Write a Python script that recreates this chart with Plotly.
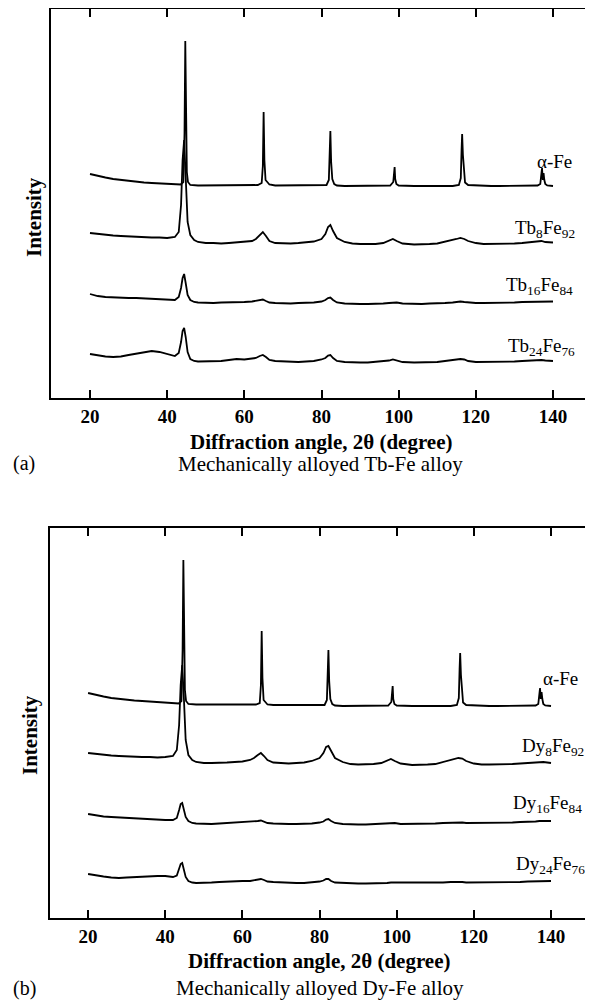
import plotly.graph_objects as go

# ---------------- data ----------------
x_sharp = [20, 22, 24, 26, 28, 30, 32, 34, 36, 38, 40, 42,
           43.5, 44.2, 44.5, 44.7, 44.9, 45.1, 45.4, 46,
           48, 50, 52, 54, 56, 58, 60, 62, 63.5,
           64.5, 64.8, 65.0, 65.2, 65.5, 66.5,
           68, 70, 72, 74, 76, 78, 80, 81.3,
           81.9, 82.1, 82.3, 82.5, 82.8, 83.3,
           84, 86, 88, 90, 92, 94, 96, 97.8,
           98.6, 98.8, 98.95, 99.1, 99.4,
           100, 102, 104, 106, 108, 110, 112, 114, 115.6,
           116.1, 116.3, 116.45, 116.65, 116.85, 117.2,
           118, 120, 122, 124, 126, 128, 130, 132, 134, 136,
           136.7, 137.0, 137.15, 137.35, 137.55, 137.75, 138.0, 138.5, 140]

x_broad = [20, 22, 24, 26, 28, 30, 32, 34, 36, 38, 40, 42,
           43, 43.6, 44.0, 44.4, 44.8, 45.3, 46, 47, 48,
           50, 52, 54, 56, 58, 60, 62,
           63, 64, 64.8, 65.6, 66.5,
           68, 70, 72, 74, 76, 78, 80,
           81, 81.7, 82.3, 83, 84,
           86, 88, 90, 92, 94, 96,
           97.5, 98.5, 99.5, 101,
           104, 106, 108, 110, 112, 114,
           115, 116, 117, 118,
           120, 122, 124, 126, 128, 130, 132, 134, 136, 137, 138, 140]

# Panel (a): Tb-Fe (stacked intensities, arbitrary units)
tb_alpha_fe = [224, 222, 220.5, 219, 218, 217, 216, 215.5, 215, 214.5, 214, 213.5,
               213.5, 216, 265, 357, 262, 226, 216, 213,
               212.5, 212.5, 212.5, 212.5, 212.5, 212.5, 212.5, 212.5, 213,
               215, 232, 286, 238, 218, 213.5,
               212.5, 212.5, 212.5, 212.5, 212.5, 212.5, 212.5, 213,
               218, 238, 267, 236, 219, 214,
               212.5, 212, 212, 212, 212, 212, 212, 212.5,
               216, 224, 231, 219, 214,
               212.5, 212, 212, 212, 212, 212, 212, 212, 213,
               220, 248, 264, 243, 228, 215.5,
               213, 212.5, 212, 212, 212, 212, 212, 212, 212, 212.5,
               214, 222, 230, 218, 225, 218, 214, 212.5, 212]

tb8_fe92 = [165, 164, 163, 162.5, 162, 161.5, 161, 161, 160.5, 160.5, 160, 161,
            166, 193, 238, 258, 223, 176, 163, 158, 156,
            155, 155, 154.5, 155, 155.5, 156, 157,
            159, 163, 166, 162, 157,
            155, 154.5, 154.5, 155, 155.5, 156.5, 159,
            164, 171, 173, 167, 160,
            156, 154.5, 154, 154, 154, 155,
            157, 159, 157, 154.5,
            153.5, 153.5, 154, 154.5, 156, 158,
            159, 160, 159, 157,
            155, 154, 154, 154, 154, 154.5, 155, 155.5, 156.5, 157, 156, 155.5]

tb16_fe84 = [104, 102, 101, 100.5, 100, 100, 100, 99.5, 99.5, 99, 98, 98,
             101, 110, 120, 124, 115, 103, 98, 96, 95.5,
             95, 95, 95.5, 95.5, 96, 96, 96.5,
             97, 98, 98.5, 97, 95.5,
             95, 94.5, 94.5, 95, 95, 95.5, 96.5,
             98, 100, 100.5, 98, 95.5,
             94.5, 94, 94, 94, 94, 94.5,
             95, 95.5, 95.5, 94.5,
             94, 94, 94.5, 94.5, 95, 95.5,
             96, 96.5, 96, 95.5,
             95, 95, 95, 95, 95.5, 95.5, 96, 96, 96.5, 96.5, 96.5, 96.5]

tb24_fe76 = [44, 42.5, 41.5, 41, 41.5, 43, 44.5, 46, 47, 46, 44, 42,
             45, 56, 67, 70, 61, 46, 39, 37, 36.5,
             36.5, 37, 37, 38, 39, 38.5, 39,
             40, 42, 43, 41, 38,
             37, 36.5, 36, 36, 36.5, 37, 38.5,
             40, 42.5, 43, 40, 37,
             36, 35.5, 35.5, 35.5, 36, 36.5,
             37.5, 38.5, 37.5, 36,
             35.5, 35.5, 36, 36, 37, 38,
             38.5, 39, 38.5, 37,
             36, 36, 36, 36, 36.5, 36.5, 37, 37.5, 38, 38, 37.5, 37]

# Panel (b): Dy-Fe
dy_alpha_fe = [225, 223, 221.5, 220, 219, 218, 217.5, 217, 216.5, 216, 215, 214.5,
               214.5, 217, 268, 358, 262, 228, 217, 214,
               213.5, 213.5, 213, 213, 213, 213, 213, 213, 213.5,
               215, 233, 287, 240, 218, 213.5,
               213, 213, 213, 212.5, 212.5, 212.5, 212.5, 213,
               218, 240, 268, 237, 219, 214,
               212.5, 212, 212, 212, 212, 212, 212, 212.5,
               216, 225, 232, 219, 214,
               212.5, 212, 212, 212, 212, 212, 212, 212, 213,
               220, 249, 265, 243, 228, 215.5,
               213, 212.5, 212, 212, 212, 212, 212, 212, 212, 212.5,
               214, 223, 230, 219, 226, 219, 214, 212.5, 212]

dy8_fe92 = [165, 164, 163, 162.5, 162, 161.5, 161, 161, 161, 160.5, 161, 162,
            168, 193, 233, 253, 223, 178, 163, 158, 156,
            155, 155, 155, 155.5, 156, 156.5, 158,
            160, 163, 165, 162, 158,
            155.5, 155, 154.5, 155, 155.5, 157, 160,
            165, 171, 172, 167, 160,
            156, 154, 153.5, 153.5, 154, 155,
            157, 159, 157, 154.5,
            153, 153, 153.5, 154, 156, 158,
            159, 160, 159.5, 157,
            154.5, 153.5, 153.5, 153.5, 154, 154, 154.5, 155, 156, 156.5, 156, 155]

dy16_fe84 = [104, 102.5, 101.5, 101, 100.5, 100, 99.5, 99, 99, 98.5, 98, 98,
             100, 108, 114, 115, 109, 101, 97, 95, 94.5,
             94, 94, 94.5, 95, 95.5, 95.5, 96,
             96.5, 97, 97.5, 96.5, 95,
             94.5, 94, 94, 94, 94, 94.5, 95.5,
             96.5, 98.5, 99, 97, 95,
             94, 93.5, 93.5, 93.5, 94, 94,
             94.5, 95, 95, 94,
             94, 94, 94.5, 94.5, 95, 95.5,
             95.5, 96, 95.5, 95,
             95, 95, 95, 95.5, 95.5, 95.5, 96, 96, 96.5, 97, 97, 97]

dy24_fe76 = [44, 42.5, 41.5, 40.5, 40, 40.5, 41, 41.5, 42, 42, 42, 41,
             42.5, 49, 54, 55, 49, 41, 37, 35.5, 35,
             35, 35.5, 36, 36.5, 37, 37, 37,
             37.5, 38.5, 39, 38, 36.5,
             36, 35.5, 35, 35, 35, 35.5, 36.5,
             37.5, 39, 39, 37, 35.5,
             35, 34.5, 34.5, 34.5, 34.5, 35,
             35, 35.5, 35.5, 35,
             35, 35, 35, 35.5, 35.5, 36,
             36, 36.5, 36, 35.5,
             35.5, 35.5, 35.5, 35.5, 36, 36, 36, 36.5, 36.5, 37, 37, 37]

x_tick_vals = [20, 40, 60, 80, 100, 120, 140]

panel_a_series = [("α-Fe", x_sharp, tb_alpha_fe),
                  ("Tb<sub>8</sub>Fe<sub>92</sub>", x_broad, tb8_fe92),
                  ("Tb<sub>16</sub>Fe<sub>84</sub>", x_broad, tb16_fe84),
                  ("Tb<sub>24</sub>Fe<sub>76</sub>", x_broad, tb24_fe76)]
panel_b_series = [("α-Fe", x_sharp, dy_alpha_fe),
                  ("Dy<sub>8</sub>Fe<sub>92</sub>", x_broad, dy8_fe92),
                  ("Dy<sub>16</sub>Fe<sub>84</sub>", x_broad, dy16_fe84),
                  ("Dy<sub>24</sub>Fe<sub>76</sub>", x_broad, dy24_fe76)]

# label anchor positions (data coords: right edge x, centre y)
label_pos_a = [(145.5, 237), (146.2, 169), (145.7, 112), (146.2, 51)]
label_pos_b = [(147.4, 240), (149.0, 171), (148.5, 114), (149.2, 53)]

for _, xs, ys in panel_a_series + panel_b_series:
    assert len(xs) == len(ys), (len(xs), len(ys))

# ---------------- figure ----------------
PAGE_W, PAGE_H = 593, 1001
OFF = 8                      # default body margin of the html page
W, H = PAGE_W - OFF, PAGE_H - OFF
SERIF = "Liberation Serif"


def px(p):
    """page x pixel -> paper x"""
    return (p - OFF) / W


def py(p):
    """page y pixel -> paper y"""
    return 1 - (p - OFF) / H


fig = go.Figure()
for name, xs, ys in panel_a_series:
    fig.add_trace(go.Scatter(x=xs, y=ys, mode="lines", xaxis="x", yaxis="y",
                             line=dict(color="black", width=1.8),
                             showlegend=False, hoverinfo="skip"))
for name, xs, ys in panel_b_series:
    fig.add_trace(go.Scatter(x=xs, y=ys, mode="lines", xaxis="x2", yaxis="y2",
                             line=dict(color="black", width=1.8),
                             showlegend=False, hoverinfo="skip"))

xcommon = dict(range=[10, 150], tickvals=x_tick_vals, ticks="inside", ticklen=8,
               tickwidth=1.5, tickcolor="black", mirror="ticks", showline=True,
               linecolor="black", linewidth=2, showgrid=False, zeroline=False,
               tickfont=dict(family=SERIF, size=19, color="black", weight="bold"))
ycommon = dict(showticklabels=False, ticks="", showline=True, mirror=True,
               linecolor="black", linewidth=2, showgrid=False, zeroline=False)

fig.update_layout(
    width=W, height=H,
    margin=dict(l=0, r=0, t=0, b=0),
    paper_bgcolor="white", plot_bgcolor="white",
    xaxis=dict(domain=[px(51.4), px(591.6)], anchor="y", **xcommon),
    yaxis=dict(domain=[py(398), py(9)], range=[0, 389], anchor="x", **ycommon),
    xaxis2=dict(domain=[px(49.5), px(589.6)], anchor="y2", **xcommon),
    yaxis2=dict(domain=[py(918), py(528)], range=[0, 390], anchor="x2", **ycommon),
)

ann = []
for (name, _, _), (lx, ly) in zip(panel_a_series, label_pos_a):
    ann.append(dict(text=name, x=lx, y=ly, xref="x", yref="y", xanchor="right",
                    yanchor="middle", showarrow=False,
                    font=dict(family=SERIF, size=19, color="black")))
for (name, _, _), (lx, ly) in zip(panel_b_series, label_pos_b):
    ann.append(dict(text=name, x=lx, y=ly, xref="x2", yref="y2", xanchor="right",
                    yanchor="middle", showarrow=False,
                    font=dict(family=SERIF, size=19, color="black")))

panels = [
    dict(cx=321.5, title_y=442, cap_y=464, int_x=34, int_y=217,
         tag="(a)", cap="Mechanically alloyed Tb-Fe alloy"),
    dict(cx=319.5, title_y=961, cap_y=988, int_x=30, int_y=735,
         tag="(b)", cap="Mechanically alloyed Dy-Fe alloy"),
]
for p in panels:
    ann.append(dict(text="<b>Diffraction angle, 2θ (degree)</b>", x=px(p["cx"]),
                    y=py(p["title_y"]), xref="paper", yref="paper",
                    xanchor="center", yanchor="middle", showarrow=False,
                    font=dict(family=SERIF, size=21, color="black")))
    ann.append(dict(text=p["tag"], x=px(11), y=py(p["cap_y"]), xref="paper",
                    yref="paper", xanchor="left", yanchor="middle", showarrow=False,
                    font=dict(family=SERIF, size=20, color="black")))
    ann.append(dict(text=p["cap"], x=px(320), y=py(p["cap_y"]), xref="paper",
                    yref="paper", xanchor="center", yanchor="middle", showarrow=False,
                    font=dict(family=SERIF, size=21, color="black")))
    ann.append(dict(text="<b>Intensity</b>", x=px(p["int_x"]), y=py(p["int_y"]),
                    xref="paper", yref="paper", xanchor="center", yanchor="middle",
                    textangle=-90, showarrow=False,
                    font=dict(family=SERIF, size=21, color="black")))

fig.update_layout(annotations=ann)
fig.write_html("out.html")
